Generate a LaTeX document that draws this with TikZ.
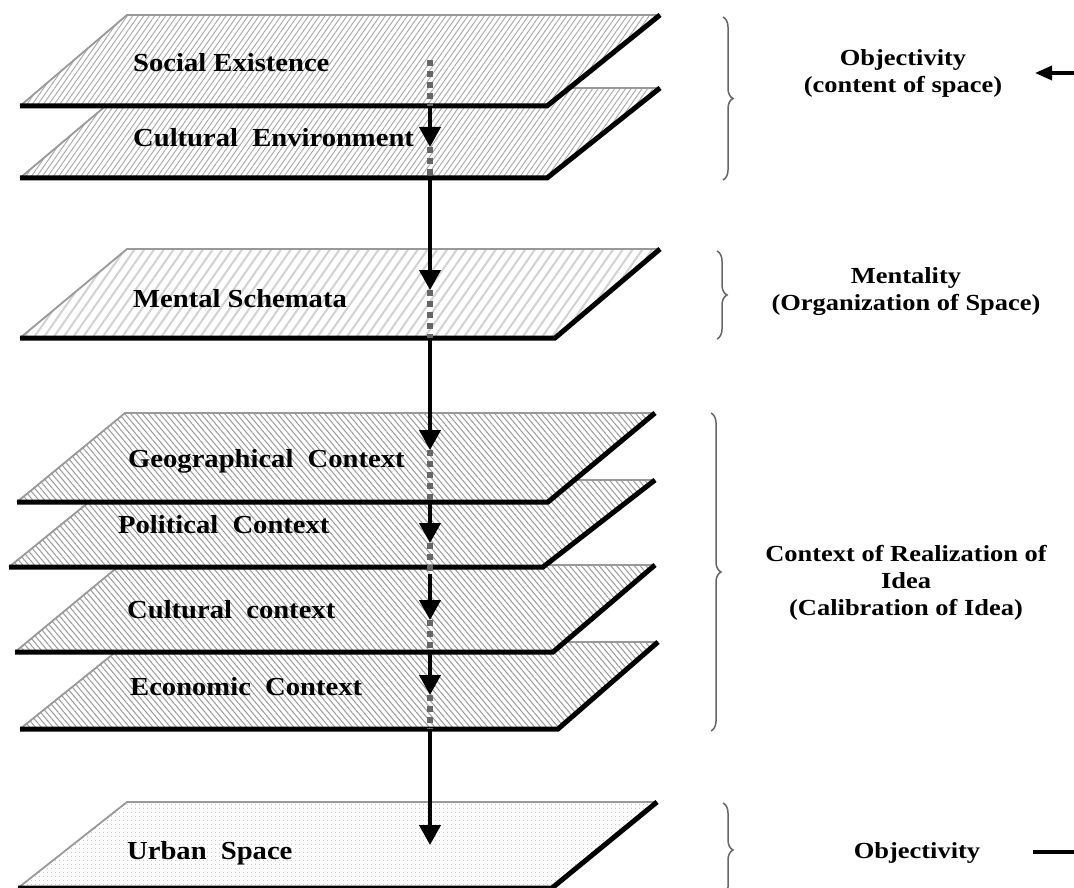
\documentclass[tikz,border=0pt]{standalone}
\usepackage{fontspec}
\setmainfont{Liberation Serif}
\newfontfamily\layerfont[FakeStretch=1.1]{Liberation Serif}
\newfontfamily\notefont[FakeStretch=1.15]{Liberation Serif}
\usetikzlibrary{arrows.meta,patterns.meta,decorations.pathreplacing}

% one plane of the stack: name, bl x, br x, tr x, tl x, top y, bottom y, fill style
\newcommand{\layer}[8]{%
  \coordinate (#1-bl) at (#2,#7);
  \coordinate (#1-br) at (#3,#7);
  \coordinate (#1-tr) at (#4,#6);
  \coordinate (#1-tl) at (#5,#6);
  \fill[white] (#1-bl) -- (#1-br) -- (#1-tr) -- (#1-tl) -- cycle;
  \fill[#8] (#1-bl) -- (#1-br) -- (#1-tr) -- (#1-tl) -- cycle;
  \draw[rim] (#1-bl) -- (#1-tl) -- (#1-tr);
  \draw[edge] (#1-bl) -- (#1-br) -- (#1-tr);
}

\tikzset{
  rim/.style={draw=gray!80, line width=1.8pt},
  edge/.style={draw=black, line width=5pt},
  hatchfine/.style={pattern={Lines[angle=55,distance=4.5pt,line width=0.9pt]}, pattern color=gray!70},
  hatchwide/.style={pattern={Lines[angle=55,distance=8pt,line width=2pt]}, pattern color=gray!35},
  hatchback/.style={pattern={Lines[angle=130,distance=4.5pt,line width=1pt]}, pattern color=gray!80},
  dotfill/.style={pattern={Dots[distance=4pt,radius=0.6pt]}, pattern color=gray!60},
  flow/.style={line width=4pt, -{Triangle[width=21pt,length=20pt]}},
  trace/.style={draw=black!60, line width=5.5pt, dash pattern=on 6pt off 5pt},
  bracket/.style={draw=black!60, line width=1.5pt, decorate, decoration={brace,amplitude=10pt}},
  planetext/.style={font=\layerfont\bfseries\fontsize{26}{30}\selectfont, anchor=base west, inner sep=0pt},
  notetext/.style={font=\notefont\bfseries\fontsize{23}{27}\selectfont, align=center, inner sep=0pt}
}

\begin{document}
\begin{tikzpicture}[x=1pt,y=-1pt]
  \clip (0,0) rectangle (1074,888);

  % planes, back to front
  \layer{us}{18}{552}{657}{127}{802}{888}{dotfill}
  \layer{ec}{20}{558}{658}{128}{642}{729}{hatchback}
  \layer{cc}{15}{553}{655}{120}{565}{652}{hatchback}
  \layer{pc}{9}{543}{655}{116}{480}{567}{hatchback}
  \layer{gc}{17}{548}{655}{125}{413}{502}{hatchback}
  \layer{ms}{20}{555}{660}{127}{249}{338}{hatchwide}
  \layer{ce}{20}{547}{660}{127}{88}{178}{hatchfine}
  \layer{se}{20}{547}{660}{127}{15}{106}{hatchfine}

  % the axis through the stack
  \coordinate (se-c) at (430,60);
  \coordinate (se-b) at (430,106);
  \coordinate (ce-h) at (430,147);
  \coordinate (ce-b) at (430,178);
  \coordinate (ms-h) at (430,290);
  \coordinate (ms-b) at (430,338);
  \coordinate (gc-h) at (430,450);
  \coordinate (gc-b) at (430,502);
  \coordinate (pc-h) at (430,543);
  \coordinate (pc-b) at (430,574);
  \coordinate (cc-h) at (430,620);
  \coordinate (cc-b) at (430,652);
  \coordinate (ec-h) at (430,695);
  \coordinate (ec-b) at (430,729);
  \coordinate (us-h) at (430,845);

  \draw[trace] (se-c) -- (se-b);
  \draw[trace] (ce-h) -- (ce-b);
  \draw[trace] (ms-h) -- (ms-b);
  \draw[trace] (gc-h) -- (gc-b);
  \draw[trace] (pc-h) -- (pc-b);
  \draw[trace] (cc-h) -- (cc-b);
  \draw[trace] (ec-h) -- (ec-b);
  \draw[flow] (se-b) -- (ce-h);
  \draw[flow] (ce-b) -- (ms-h);
  \draw[flow] (ms-b) -- (gc-h);
  \draw[flow] (gc-b) -- (pc-h);
  \draw[flow] (pc-b) -- (cc-h);
  \draw[flow] (cc-b) -- (ec-h);
  \draw[flow] (ec-b) -- (us-h);

  % plane names
  \node[planetext] (se-lbl) at (133,72) {Social Existence};
  \node[planetext] (ce-lbl) at (133,147) {Cultural~ Environment};
  \node[planetext] (ms-lbl) at (133,307) {Mental Schemata};
  \node[planetext] (gc-lbl) at (128,467) {Geographical~ Context};
  \node[planetext] (pc-lbl) at (118,533) {Political~ Context};
  \node[planetext] (cc-lbl) at (127,618) {Cultural~ context};
  \node[planetext] (ec-lbl) at (130,695) {Economic~ Context};
  \node[planetext] (us-lbl) at (127,859) {Urban~ Space};

  % braces and their notes
  \draw[bracket] (723,17) -- (723,180);
  \draw[bracket] (717,251) -- (717,339);
  \draw[bracket] (711,413) -- (711,731);
  \draw[bracket] (723,803) -- (723,897);

  \node[notetext] (obj-top) at (903,73) {Objectivity\\(content of space)};
  \node[notetext] (ment) at (906,292) {Mentality\\(Organization of Space)};
  \node[notetext] (ctx) at (906,583) {Context of Realization of\\Idea\\(Calibration of Idea)};
  \node[notetext, anchor=base] (obj-bot) at (917,858) {Objectivity};

  % feedback ends at the right border
  \coordinate (fb-in) at (1074,73);
  \coordinate (fb-tip) at (1035,73);
  \coordinate (fb-out) at (1074,852);
  \coordinate (fb-end) at (1033,852);
  \draw[line width=3.5pt, -{Triangle[width=14pt,length=17pt]}] (fb-in) -- (fb-tip);
  \draw[line width=4pt] (fb-out) -- (fb-end);
\end{tikzpicture}
\end{document}
